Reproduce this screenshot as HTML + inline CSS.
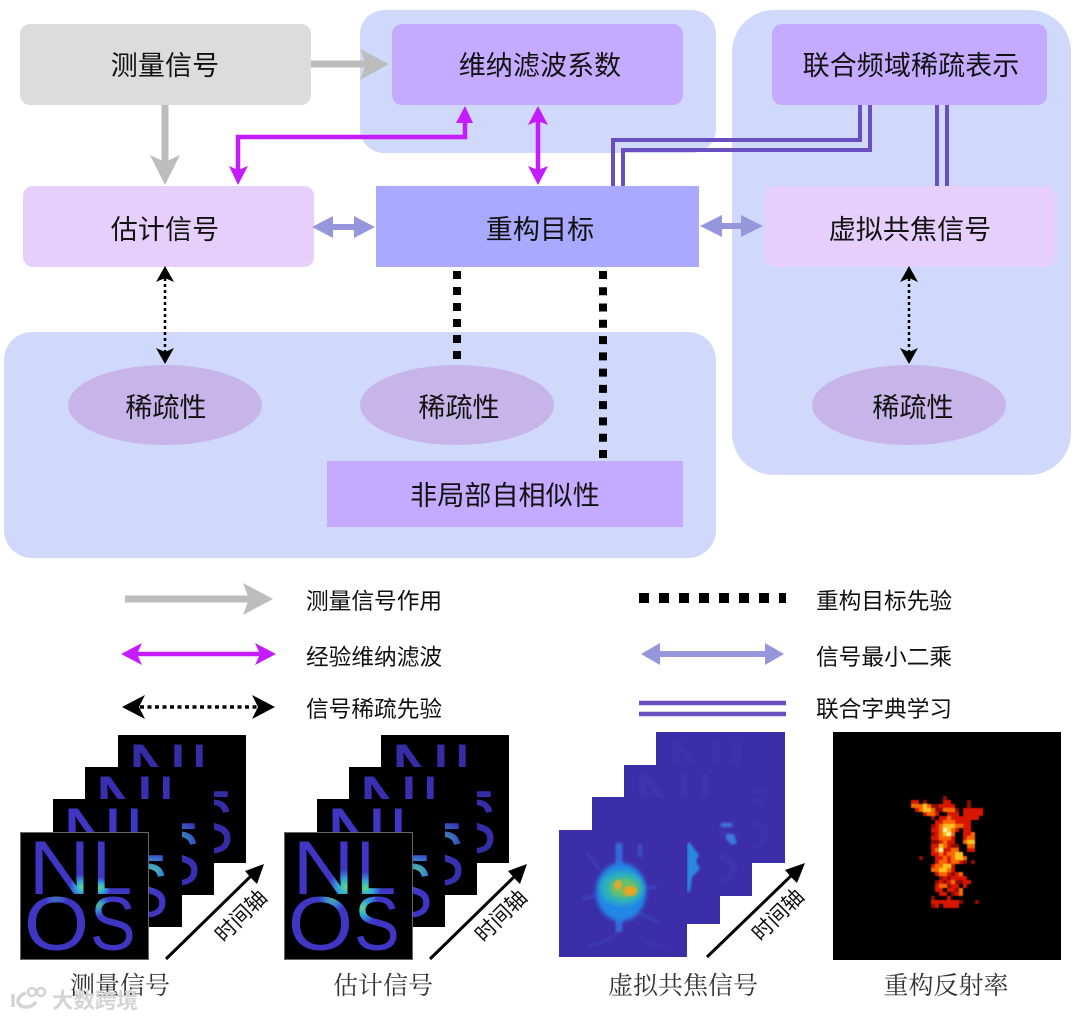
<!DOCTYPE html>
<html><head><meta charset="utf-8"><style>
html,body{margin:0;padding:0;background:#fff}
svg{display:block}
.n{font-family:"Liberation Sans","Noto Sans CJK SC",sans-serif;font-size:27px;fill:#111;text-anchor:middle;letter-spacing:.1px}
.l{font-family:"Liberation Sans","Noto Sans CJK SC",sans-serif;font-size:22.7px;fill:#111}
.c{font-family:"Liberation Serif","Noto Serif CJK SC",serif;font-size:25px;fill:#333;text-anchor:middle}
.t{font-family:"Liberation Sans","Noto Sans CJK SC",sans-serif;font-size:21px;fill:#111;text-anchor:middle}
.g{font-family:"Liberation Sans",sans-serif;font-size:76px;fill:#3f36c4}
.f{font-family:"Liberation Sans",sans-serif;font-size:76px;fill:#5a62dc}
</style></head><body>
<svg xmlns="http://www.w3.org/2000/svg" width="1078" height="1020" viewBox="0 0 1078 1020">
<defs>
<radialGradient id="spot"><stop offset="0" stop-color="#5ed88a"/><stop offset=".45" stop-color="#30a8d8"/><stop offset="1" stop-color="#30a0e0" stop-opacity="0"/></radialGradient>
<clipPath id="nl">
<text class="g" transform="translate(8.5 62) scale(1.13 1)">N</text><text class="g" transform="translate(72 62) scale(.95 1)">L</text><text class="g" transform="translate(4 118) scale(1.1 1)">O</text><text class="g" transform="translate(70 118) scale(.9 1)">S</text>
</clipPath>
<filter id="b05"><feGaussianBlur stdDeviation=".12"/></filter>
<filter id="b1"><feGaussianBlur stdDeviation="1"/></filter>
<filter id="b2" x="-30%" y="-30%" width="160%" height="160%"><feGaussianBlur stdDeviation="2"/></filter>
</defs>
<!-- panels -->
<rect x="360" y="10" width="356" height="143" rx="24" fill="#d0d9fb"/>
<rect x="732" y="10" width="339" height="465" rx="42" fill="#d0d9fb"/>
<rect x="4" y="332" width="712" height="226" rx="28" fill="#d0d9fb"/>
<!-- nodes -->
<rect x="20" y="24" width="291" height="81" rx="10" fill="#dcdcdc"/>
<rect x="392" y="24" width="291" height="81" rx="10" fill="#c4abff"/>
<rect x="772" y="24" width="275" height="81" rx="10" fill="#c4abff"/>
<rect x="23" y="186" width="291" height="81" rx="10" fill="#e6d0fb"/>
<rect x="376" y="186" width="323" height="81" fill="#a9a9ff"/>
<rect x="764" y="186" width="291" height="81" rx="10" fill="#e6d0fb"/>
<ellipse cx="165" cy="405" rx="97" ry="40" fill="#c7b5ea"/>
<ellipse cx="457" cy="405" rx="97" ry="40" fill="#c7b5ea"/>
<ellipse cx="909" cy="405" rx="97" ry="40" fill="#c7b5ea"/>
<rect x="327" y="461" width="356" height="66" fill="#c4abff"/>
<!-- node text -->
<text class="n" x="165" y="75">测量信号</text>
<text class="n" x="540" y="75">维纳滤波系数</text>
<text class="n" x="911" y="75">联合频域稀疏表示</text>
<text class="n" x="165" y="239">估计信号</text>
<text class="n" x="540" y="239">重构目标</text>
<text class="n" x="910" y="239">虚拟共焦信号</text>
<text class="n" x="166" y="417">稀疏性</text>
<text class="n" x="459" y="417">稀疏性</text>
<text class="n" x="913" y="417">稀疏性</text>
<text class="n" x="505" y="505">非局部自相似性</text>
<!-- gray arrows -->
<path d="M311 64H370" stroke="#bdbdbd" stroke-width="7" fill="none"/>
<path d="M389 64L360 49L366 64L360 80Z" fill="#bdbdbd"/>
<path d="M165 105V166" stroke="#bdbdbd" stroke-width="7" fill="none"/>
<path d="M165 185L150 155L165 162L180 155Z" fill="#bdbdbd"/>
<!-- magenta -->
<path d="M238 170V137H465V118" stroke="#c41cff" stroke-width="4.5" fill="none"/>
<path d="M238 185L229 166L238 170L248 166Z" fill="#c41cff"/>
<path d="M465 106L456 123H473Z" fill="#c41cff"/>
<path d="M538 118V172" stroke="#c41cff" stroke-width="4.5" fill="none"/>
<path d="M538 106L528 125L538 121L548 125Z" fill="#c41cff"/>
<path d="M538 185L528 166L538 170L548 166Z" fill="#c41cff"/>
<!-- LSQ arrows -->
<path d="M325 227H365" stroke="#9696dc" stroke-width="6" fill="none"/>
<path d="M312 227L333 216V238Z" fill="#9696dc"/><path d="M375 227L354 216V238Z" fill="#9696dc"/>
<path d="M712 226H752" stroke="#9696dc" stroke-width="6" fill="none"/>
<path d="M700 226L722 215V237Z" fill="#9696dc"/><path d="M763 226L741 215V237Z" fill="#9696dc"/>
<!-- double lines -->
<path d="M613 186V140H860V105" stroke="#6a4fc0" stroke-width="4" fill="none"/>
<path d="M623 186V150H870V105" stroke="#6a4fc0" stroke-width="4" fill="none"/>
<path d="M937 105V186M947 105V186" stroke="#6a4fc0" stroke-width="4" fill="none"/>
<!-- dashed black -->
<path d="M457 271V361" stroke="#000" stroke-width="8" stroke-dasharray="8 8" fill="none"/>
<path d="M603 271V459" stroke="#000" stroke-width="8" stroke-dasharray="8 8.27" fill="none"/>
<!-- dotted -->
<path d="M165 278V352" stroke="#000" stroke-width="2.5" stroke-dasharray="3 3" fill="none"/>
<path d="M165 266L156 282L165 278L174 282Z"/><path d="M165 364L156 348L165 352L174 348Z"/>
<path d="M909 278V352" stroke="#000" stroke-width="2.5" stroke-dasharray="3 3" fill="none"/>
<path d="M909 266L900 282L909 278L918 282Z"/><path d="M909 364L900 348L909 352L918 348Z"/>
<!-- legend -->
<path d="M125 599H250" stroke="#bdbdbd" stroke-width="7" fill="none"/>
<path d="M273 599L243 583L249 599L243 615Z" fill="#bdbdbd"/>
<path d="M135 654H262" stroke="#c41cff" stroke-width="4.5" fill="none"/>
<path d="M121 654L142 643L137 654L142 665Z" fill="#c41cff"/><path d="M276 654L255 643L260 654L255 665Z" fill="#c41cff"/>
<path d="M140 707H258" stroke="#000" stroke-width="3.5" stroke-dasharray="4 3.5" fill="none"/>
<path d="M122 707L145 695L139 707L145 719Z"/><path d="M275 707L252 695L258 707L252 719Z"/>
<path d="M639 598H786" stroke="#000" stroke-width="10" stroke-dasharray="10 10" fill="none"/>
<path d="M655 654H770" stroke="#9696dc" stroke-width="6" fill="none"/>
<path d="M641 654L660 643V665Z" fill="#9696dc"/><path d="M784 654L765 643V665Z" fill="#9696dc"/>
<path d="M639 703H786M639 714H786" stroke="#6a4fc0" stroke-width="4.5" fill="none"/>
<text class="l" x="306" y="609">测量信号作用</text>
<text class="l" x="306" y="665">经验维纳滤波</text>
<text class="l" x="306" y="717">信号稀疏先验</text>
<text class="l" x="816" y="609">重构目标先验</text>
<text class="l" x="816" y="665">信号最小二乘</text>
<text class="l" x="816" y="717">联合字典学习</text>

<!-- stack 1 -->
<svg x="118" y="735" width="128" height="128"><rect width="128" height="128" fill="#000"/><g opacity=".85"><text class="g" transform="translate(8.5 62) scale(1.13 1)">N</text><text class="g" transform="translate(72 62) scale(.95 1)">L</text><text class="g" transform="translate(4 118) scale(1.1 1)">O</text><text class="g" transform="translate(70 118) scale(.9 1)">S</text></g></svg>
<svg x="85" y="767" width="129" height="128"><rect width="129" height="128" fill="#000"/><g opacity=".9"><text class="g" transform="translate(8.5 62) scale(1.13 1)">N</text><text class="g" transform="translate(72 62) scale(.95 1)">L</text><text class="g" transform="translate(4 118) scale(1.1 1)">O</text><text class="g" transform="translate(70 118) scale(.9 1)">S</text></g><g clip-path="url(#nl)"><circle cx="96" cy="72" r="20" fill="url(#spot)" opacity=".5"/></g></svg>
<svg x="53" y="799" width="129" height="128"><rect width="129" height="128" fill="#000"/><text class="g" transform="translate(8.5 62) scale(1.13 1)">N</text><text class="g" transform="translate(72 62) scale(.95 1)">L</text><text class="g" transform="translate(4 118) scale(1.1 1)">O</text><text class="g" transform="translate(70 118) scale(.9 1)">S</text><g clip-path="url(#nl)"><circle cx="100" cy="72" r="20" fill="url(#spot)" opacity=".8"/></g></svg>
<svg x="20" y="832" width="129" height="128"><rect width="129" height="128" fill="#000"/><rect x=".5" y=".5" width="128" height="127" fill="none" stroke="#666"/><text class="g" transform="translate(8.5 62) scale(1.13 1)">N</text><text class="g" transform="translate(72 62) scale(.95 1)">L</text><text class="g" transform="translate(4 118) scale(1.1 1)">O</text><text class="g" transform="translate(70 118) scale(.9 1)">S</text><g clip-path="url(#nl)"><circle cx="62" cy="55" r="13" fill="url(#spot)"/><circle cx="80" cy="56" r="11" fill="url(#spot)"/><circle cx="78" cy="73" r="12" fill="url(#spot)" opacity=".8"/><circle cx="36" cy="66" r="12" fill="url(#spot)" opacity=".35"/></g></svg>
<!-- stack 2 -->
<svg x="381" y="735" width="128" height="128"><rect width="128" height="128" fill="#000"/><g opacity=".85"><text class="g" transform="translate(8.5 62) scale(1.13 1)">N</text><text class="g" transform="translate(72 62) scale(.95 1)">L</text><text class="g" transform="translate(4 118) scale(1.1 1)">O</text><text class="g" transform="translate(70 118) scale(.9 1)">S</text></g></svg>
<svg x="349" y="767" width="128" height="128"><rect width="128" height="128" fill="#000"/><g opacity=".9"><text class="g" transform="translate(8.5 62) scale(1.13 1)">N</text><text class="g" transform="translate(72 62) scale(.95 1)">L</text><text class="g" transform="translate(4 118) scale(1.1 1)">O</text><text class="g" transform="translate(70 118) scale(.9 1)">S</text></g><g clip-path="url(#nl)"><circle cx="96" cy="72" r="20" fill="url(#spot)" opacity=".5"/></g></svg>
<svg x="317" y="799" width="128" height="128"><rect width="128" height="128" fill="#000"/><text class="g" transform="translate(8.5 62) scale(1.13 1)">N</text><text class="g" transform="translate(72 62) scale(.95 1)">L</text><text class="g" transform="translate(4 118) scale(1.1 1)">O</text><text class="g" transform="translate(70 118) scale(.9 1)">S</text><g clip-path="url(#nl)"><circle cx="100" cy="72" r="20" fill="url(#spot)" opacity=".8"/></g></svg>
<svg x="284" y="832" width="129" height="128"><rect width="129" height="128" fill="#000"/><rect x=".5" y=".5" width="128" height="127" fill="none" stroke="#666"/><text class="g" transform="translate(8.5 62) scale(1.13 1)">N</text><text class="g" transform="translate(72 62) scale(.95 1)">L</text><text class="g" transform="translate(4 118) scale(1.1 1)">O</text><text class="g" transform="translate(70 118) scale(.9 1)">S</text><g clip-path="url(#nl)"><circle cx="62" cy="55" r="18" fill="url(#spot)"/><circle cx="82" cy="56" r="16" fill="url(#spot)"/><circle cx="78" cy="76" r="17" fill="url(#spot)"/><circle cx="48" cy="67" r="14" fill="url(#spot)" opacity=".7"/></g></svg>
<!-- stack 3 -->
<svg x="656" y="732" width="129" height="131"><rect width="129" height="131" fill="#3c2ea8"/><g opacity=".08" filter="url(#b1)"><text class="f" transform="translate(8.5 62) scale(1.13 1)">N</text><text class="f" transform="translate(72 62) scale(.95 1)">L</text><text class="f" transform="translate(4 118) scale(1.1 1)">O</text><text class="f" transform="translate(70 118) scale(.9 1)">S</text></g></svg>
<svg x="624" y="765" width="128" height="131"><rect width="128" height="131" fill="#3c2ea8"/><g opacity=".12" filter="url(#b1)"><text class="f" transform="translate(8.5 62) scale(1.13 1)">N</text><text class="f" transform="translate(72 62) scale(.95 1)">L</text><text class="f" transform="translate(4 118) scale(1.1 1)">O</text><text class="f" transform="translate(70 118) scale(.9 1)">S</text></g></svg>
<rect x="592" y="797" width="128" height="127" fill="#3c2ea8"/>
<path d="M721 823h11v4h-11zM726 834h8l3 9-5 2-6-6z" fill="#3a78e0" filter="url(#b1)"/>
<path d="M687 843h3l5 7 4 5-3 6 4 8-8 8-2 15h-3z" fill="#2a88e0" filter="url(#b1)"/>
<rect x="559" y="830" width="128" height="127" fill="#3c2ea8"/>
<g filter="url(#b1)" fill="none" stroke="#3a50c4">
<path d="M619 843V932" stroke-width="7" stroke="#3468d8"/>
<path d="M640 844V857" stroke-width="4"/>
<path d="M587 853L600 870" stroke-width="3" opacity=".45"/>
<path d="M643 888L657 887" stroke-width="3" opacity=".7"/>
<path d="M582 899L598 895" stroke-width="3" opacity=".6"/>
<path d="M638 913L660 923" stroke-width="3" opacity=".5"/>
<path d="M588 945Q606 944 618 932" stroke-width="3" opacity=".4"/>
<path d="M640 935Q650 948 665 945" stroke-width="3" opacity=".25"/>
</g>
<ellipse cx="621" cy="892" rx="25" ry="29" fill="#2088e8" filter="url(#b2)"/>
<ellipse cx="622" cy="888" rx="22" ry="17" fill="#2cb0c0" filter="url(#b2)"/>
<ellipse cx="624" cy="888" rx="15" ry="10" fill="#68c068" filter="url(#b2)"/>
<ellipse cx="618" cy="885" rx="4" ry="5" fill="#dcaa30" filter="url(#b1)"/>
<ellipse cx="630" cy="891" rx="7" ry="5" fill="#e8a428" filter="url(#b1)"/>
<!-- reflectivity -->
<rect x="833" y="732" width="228" height="228" fill="#000"/>
<g transform="translate(911 796) scale(4)" fill="none" stroke-width="1" filter="url(#b05)">
<path stroke="#8f0d00" d="M8 .5h1M3 1.5h1M14 1.5h1M5 2.5h2M14 2.5h1M6 3.5h2M11 3.5h1M5 5.5h1M5 7.5h1M5 9.5h1M5 11.5h2M10 12.5h2M2 15.5h1M13 16.5h1M15 16.5h1M10 19.5h1M7 20.5h1M9 20.5h1M6 21.5h1M8 21.5h1M11 21.5h2M9 22.5h1M11 23.5h1M10 24.5h1M5 25.5h1M12 26.5h1M16 26.5h1M5 27.5h1"/>
<path stroke="#d81800" d="M0 1.5h2M8 1.5h2M7 2.5h4M1 3.5h1M13 3.5h5M3 4.5h1M6 4.5h1M9 4.5h3M13 4.5h5M7 5.5h2M10 5.5h7M6 6.5h2M11 6.5h4M6 7.5h1M13 7.5h2M5 8.5h2M11 8.5h1M13 8.5h2M6 9.5h1M13 9.5h2M5 10.5h2M10 10.5h1M13 10.5h1M7 11.5h1M9 11.5h2M5 12.5h2M9 12.5h1M5 13.5h1M8 13.5h2M14 13.5h2M5 14.5h2M8 14.5h1M6 15.5h2M9 15.5h1M6 16.5h1M9 16.5h1M12 16.5h1M5 17.5h1M10 17.5h1M10 18.5h1M6 19.5h1M9 19.5h1M11 19.5h1M8 20.5h1M10 20.5h4M7 21.5h1M9 21.5h1M13 21.5h2M6 22.5h1M10 22.5h2M13 22.5h1M6 23.5h2M9 23.5h2M7 24.5h2M11 24.5h1M9 25.5h1M5 26.5h7M6 27.5h1M8 27.5h4"/>
<path stroke="#f86800" d="M0 2.5h3M4 2.5h1M2 3.5h1M5 3.5h1M8 3.5h3M4 4.5h2M9 5.5h1M8 6.5h3M7 7.5h1M11 7.5h2M7 8.5h1M10 8.5h1M7 9.5h1M10 9.5h1M15 9.5h1M7 10.5h3M14 10.5h2M8 11.5h1M13 11.5h1M8 12.5h1M14 12.5h2M6 13.5h1M10 13.5h2M7 14.5h1M9 14.5h2M8 15.5h1M10 15.5h1M13 15.5h1M7 16.5h2M10 16.5h2M6 17.5h2M5 18.5h2M9 18.5h1M7 19.5h2M12 19.5h1M10 21.5h1M7 22.5h2M12 23.5h1M12 24.5h1"/>
<path stroke="#ffc020" d="M3 2.5h1M3 3.5h2M8 7.5h3M9 8.5h1M8 9.5h1M14 11.5h2M7 12.5h1M11 14.5h2M11 15.5h2M8 17.5h2M7 18.5h2"/>
<path stroke="#fff4a0" d="M8 8.5h1M9 9.5h1M7 13.5h1"/>
</g>
<!-- time arrows -->
<path d="M166 959L254 873M430 959L518 873M707 957L795 872" stroke="#000" stroke-width="3" fill="none"/>
<path d="M264 864L257 884L251 878L245 871Z"/><path d="M527 864L520 884L514 878L508 871Z"/><path d="M805 863L797 883L791 877L785 870Z"/>
<text class="t" transform="translate(246 921) rotate(-45)">时间轴</text>
<text class="t" transform="translate(506 921) rotate(-45)">时间轴</text>
<text class="t" transform="translate(783 920) rotate(-45)">时间轴</text>
<!-- captions -->
<text class="c" x="120" y="994">测量信号</text>
<text class="c" x="383" y="994">估计信号</text>
<text class="c" x="683" y="994">虚拟共焦信号</text>
<text class="c" x="946" y="994">重构反射率</text>
<!-- watermark -->
<g fill="none" stroke="#d4d4d4" stroke-width="3.5">
<path d="M13 994V1007M26 993C15 996 15 1008 28 1007Q33 1006 36 1002"/><circle cx="32" cy="992" r="4" stroke-width="2.5"/><circle cx="41" cy="992" r="4" stroke-width="2.5"/>
</g>
<text x="52" y="1008" font-family="'Liberation Sans','Noto Sans CJK SC',sans-serif" font-size="21.5" font-weight="700" fill="#d4d4d4">大数跨境</text>
</svg>
</body></html>
